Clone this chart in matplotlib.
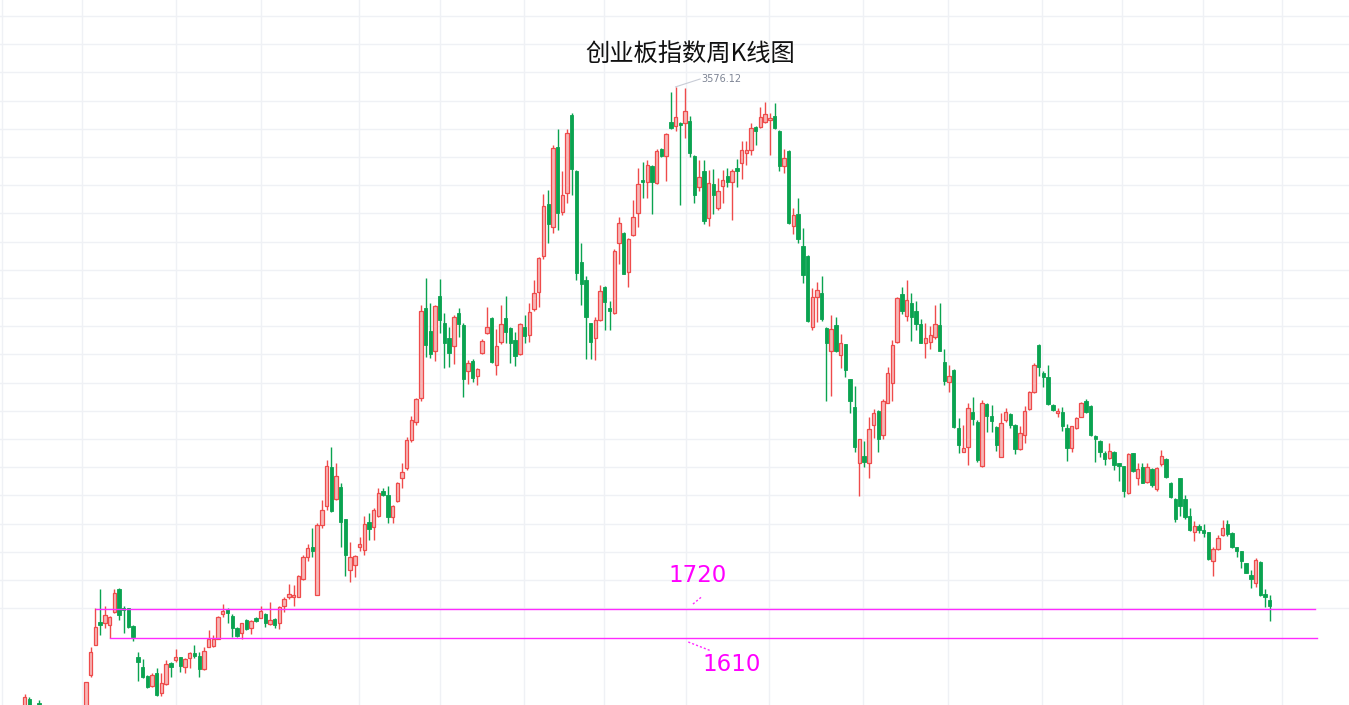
import matplotlib
matplotlib.use("Agg")
import matplotlib.pyplot as plt
import numpy as np

# Weekly OHLC of the ChiNext index
opens = [1360,1399,1345,1385,1342,1310,1285,1250,1265,1245,1200,1240,1280,1335,1485,1591,1674,1668,1662,1710,
         1790,1722,1722,1659,1550,1514,1481,1446,1491,1422,1452,1526,1538,1548,1514,1544,1562,1552,1507,1585,
         1588,1613,1702,1718,1696,1651,1633,1680,1651,1688,1688,1700,1666,1684,1668,1730,1761,1761,1763,1825,
         1903,1941,1769,2018,2087,2225,2110,2154,2038,1858,1876,1941,1929,2030,2010,2050,2140,2125,2048,2103,
         2184,2221,2320,2384,2469,2789,2708,2638,2832,2735,2682,2655,2771,2729,2567,2602,2548,2631,2700,2753,
         2587,2668,2753,2718,2676,2626,2721,2694,2785,2848,2975,3160,3079,3363,3132,3200,3476,3278,2954,2889,
         2735,2682,2747,2863,2789,2773,3020,3058,2919,3049,3129,3245,3239,3295,3233,3354,3330,3452,3437,3449,
         3449,3456,3330,3219,3278,3109,3231,3144,3224,3259,3239,3287,3304,3340,3352,3435,3432,3452,3458,3473,
         3420,3295,3349,3081,3124,3010,2975,2723,2828,2844,2718,2638,2729,2623,2662,2536,2437,2238,2264,2238,
         2374,2425,2338,2453,2522,2670,2840,2762,2807,2780,2733,2664,2670,2686,2729,2599,2528,2569,2362,2279,
         2294,2421,2385,2228,2448,2406,2368,2261,2392,2413,2374,2287,2338,2430,2492,2658,2560,2546,2445,2415,
         2421,2362,2291,2362,2401,2460,2441,2335,2318,2275,2255,2279,2240,2228,2133,2273,2184,2223,2172,2216,
         2145,2235,2252,2166,2110,2184,2110,2050,1994,2015,2002,1994,1891,1932,1983,2022,1991,1939,1927,1884,
         1840,1813,1888,1773,1751]
highs = [1417,1407,1376,1396,1360,1330,1300,1275,1290,1260,1250,1290,1340,1461,1583,1722,1789,1730,1694,1789,
         1793,1730,1724,1662,1568,1540,1485,1491,1508,1491,1538,1530,1576,1550,1544,1568,1591,1568,1583,1645,
         1627,1694,1737,1724,1702,1656,1671,1683,1680,1692,1731,1704,1745,1686,1730,1763,1808,1805,1840,1911,
         1950,2006,2024,2107,2249,2294,2240,2166,2038,1959,1911,1975,2050,2060,2078,2149,2149,2157,2089,2172,
         2240,2331,2406,2470,2800,2895,2809,2800,2892,2771,2723,2765,2789,2735,2605,2607,2575,2678,2792,2757,
         2714,2800,2832,2723,2706,2738,2765,2807,2889,2972,3195,3209,3369,3425,3278,3425,3482,3281,3022,2904,
         2738,2757,2872,2868,2816,2999,3112,3061,3038,3174,3287,3310,3316,3298,3354,3358,3411,3559,3576,3452,
         3571,3473,3334,3316,3316,3281,3283,3251,3281,3287,3283,3319,3385,3385,3447,3437,3506,3523,3482,3520,
         3423,3354,3352,3144,3180,3073,2978,2860,2883,2904,2721,2765,2759,2697,2662,2536,2512,2323,2318,2403,
         2430,2427,2465,2579,2676,2830,2866,2889,2844,2816,2750,2738,2726,2800,2807,2643,2587,2572,2398,2374,
         2451,2472,2391,2463,2451,2445,2370,2417,2433,2417,2377,2370,2441,2496,2593,2662,2567,2587,2448,2433,
         2437,2376,2370,2401,2457,2465,2445,2338,2320,2282,2309,2282,2240,2228,2275,2275,2238,2238,2240,2220,
         2223,2285,2255,2172,2113,2184,2125,2078,2033,2022,2022,1994,1939,1983,2036,2036,1994,1941,1927,1884,
         1858,1900,1891,1790,1769]
lows = [1345,1339,1325,1330,1300,1270,1230,1220,1240,1184,1190,1230,1270,1325,1479,1591,1627,1651,1615,1706,
        1680,1635,1653,1607,1464,1473,1437,1443,1410,1410,1449,1479,1532,1495,1493,1508,1544,1479,1502,1583,
        1585,1613,1692,1668,1621,1619,1612,1645,1629,1674,1686,1654,1662,1651,1647,1710,1754,1731,1763,1822,
        1891,1905,1769,2006,2071,2065,2107,1939,1837,1817,1832,1925,1911,1965,1965,2048,2121,2026,2024,2101,
        2149,2214,2313,2374,2460,2614,2611,2602,2702,2575,2579,2591,2686,2472,2520,2528,2516,2626,2697,2595,
        2552,2662,2666,2593,2584,2623,2664,2670,2780,2794,2963,3020,3055,3067,3121,3162,3192,2889,2800,2607,
        2607,2605,2745,2712,2712,2768,2946,2911,2863,3046,3077,3180,3180,3124,3231,3328,3242,3425,3420,3156,
        3393,3326,3162,3207,3089,3081,3124,3138,3162,3219,3103,3221,3247,3298,3334,3369,3429,3447,3334,3425,
        3278,3271,3089,3053,3020,2878,2741,2712,2741,2745,2460,2478,2634,2575,2543,2415,2279,2121,2223,2184,
        2326,2279,2323,2453,2460,2666,2768,2745,2674,2712,2664,2611,2643,2678,2638,2516,2492,2362,2275,2279,
        2232,2374,2243,2225,2350,2350,2282,2259,2385,2362,2271,2285,2309,2427,2489,2548,2510,2445,2425,2401,
        2353,2247,2279,2358,2401,2417,2335,2243,2259,2232,2252,2214,2176,2117,2128,2208,2160,2166,2169,2152,
        2140,2228,2184,2113,2030,2050,2038,1998,1962,1989,1974,1894,1837,1929,1979,1979,1935,1903,1864,1846,
        1793,1797,1766,1725,1678]
closes = [1407,1353,1368,1342,1310,1285,1250,1265,1245,1200,1240,1280,1330,1461,1568,1656,1662,1698,1692,1777,
          1698,1716,1656,1621,1532,1479,1441,1485,1414,1455,1524,1512,1550,1517,1540,1564,1553,1507,1571,1613,
          1613,1692,1712,1704,1651,1623,1668,1647,1677,1678,1712,1671,1680,1662,1728,1755,1773,1769,1838,1905,
          1935,1926,2018,2071,2228,2068,2192,2030,1911,1905,1908,1950,2022,2003,2071,2131,2125,2046,2086,2169,
          2208,2320,2392,2465,2780,2658,2625,2797,2747,2666,2631,2757,2733,2536,2595,2540,2572,2674,2723,2599,
          2655,2732,2706,2666,2619,2733,2690,2777,2842,2967,3153,3089,3358,3129,3192,3413,3283,2913,2875,2757,
          2670,2747,2851,2812,2780,2994,3091,2911,3034,3112,3231,3239,3298,3239,3349,3330,3409,3429,3468,3441,
          3491,3342,3192,3257,3100,3233,3192,3207,3245,3239,3278,3278,3352,3352,3429,3420,3468,3480,3464,3429,
          3295,3322,3093,3121,3034,2907,2745,2828,2854,2750,2664,2714,2638,2666,2569,2460,2294,2323,2243,2358,
          2417,2323,2460,2560,2658,2824,2780,2818,2759,2733,2666,2682,2694,2733,2638,2531,2548,2366,2303,2291,
          2433,2394,2249,2451,2406,2389,2303,2382,2421,2374,2287,2344,2425,2492,2587,2579,2546,2448,2427,2425,
          2370,2291,2370,2398,2453,2421,2338,2323,2279,2252,2282,2232,2228,2140,2271,2211,2216,2169,2223,2160,
          2220,2264,2188,2119,2038,2086,2046,2000,2015,2002,1991,1896,1932,1971,2006,1986,1939,1927,1891,1849,
          1825,1894,1769,1761,1730]

peak_label = "3576.12"
peak_index = 138
level_values = [1720, 1610]
level_labels = ["1720", "1610"]
title = "创业板指数周K线图"

# vertical grid positions (in candle-index units)
vgrid = [-4.8, 12.1, 32.1, 50.1, 70.9, 88.1, 105.9, 122.8, 140.2, 157.8, 177.8, 195.8, 215.7, 232.7, 249.9, 266.6]

plt.rcParams['font.family'] = ['Noto Sans CJK SC', 'DejaVu Sans']

W, H = 1349, 705
fig = plt.figure(figsize=(W / 100, H / 100), dpi=100)
ax = fig.add_axes([0, 0, 1, 1])
ax.set_xlim(-5.24, 280.8)
ax.set_ylim(1378, 3885)
ax.axis('off')

grid_c = '#eff1f5'
for v in np.arange(1722.3, 3885, 100.28):
    ax.axhline(v, color=grid_c, lw=1.0, zorder=0)
for g in vgrid:
    ax.axvline(g, color=grid_c, lw=1.0, zorder=0)

o = np.array(opens, float)
h = np.array(highs, float)
l = np.array(lows, float)
c = np.array(closes, float)
x = np.arange(len(o))
up = c >= o

up_edge = '#ef4b4b'
up_face = '#f7b7b7'
dn_col = '#0aa350'

ax.vlines(x[up], l[up], h[up], color=up_edge, lw=1.0, zorder=2)
ax.vlines(x[~up], l[~up], h[~up], color=dn_col, lw=1.0, zorder=2)

bw = 0.72
bot = np.minimum(o, c)
hgt = np.maximum(np.abs(c - o), 2.5)
ax.bar(x[up], hgt[up], bottom=bot[up], width=bw, facecolor=up_face, edgecolor=up_edge, lw=0.9, zorder=3)
ax.bar(x[~up], hgt[~up], bottom=bot[~up], width=bw, facecolor=dn_col, edgecolor=dn_col, lw=0.6, zorder=3)

# support levels
mag = '#ff2bff'
ax.plot([15.1, 273.6], [level_values[0]] * 2, color=mag, lw=1.0, zorder=4)
ax.plot([18.0, 274.0], [level_values[1] + 5] * 2, color=mag, lw=1.0, zorder=4)
ax.plot([141.7, 143.7], [1737, 1765], color=mag, lw=1.0, ls=(0, (1.5, 1.5)), zorder=4)
ax.plot([140.7, 145.6], [1602, 1570], color=mag, lw=1.0, ls=(0, (1.5, 1.5)), zorder=4)
ax.text(136.5, 1837, level_labels[0], color='#ff00ff', fontsize=16.5, ha='left', va='center',
        family=['DejaVu Sans'])
ax.text(143.7, 1522, level_labels[1], color='#ff00ff', fontsize=16.5, ha='left', va='center',
        family=['DejaVu Sans'])

# peak annotation
ax.plot([peak_index, 143.2], [highs[peak_index], 3604], color='#c8ccd6', lw=0.8, zorder=4)
ax.text(143.4, 3604, peak_label, color='#7d8494', fontsize=7, ha='left', va='center',
        family=['DejaVu Sans'])

fig.text(690 / W, 1 - 55 / H, title, ha='center', va='center', fontsize=17.5, color='#111111')

fig.savefig('out.png', dpi=100, facecolor='white')
